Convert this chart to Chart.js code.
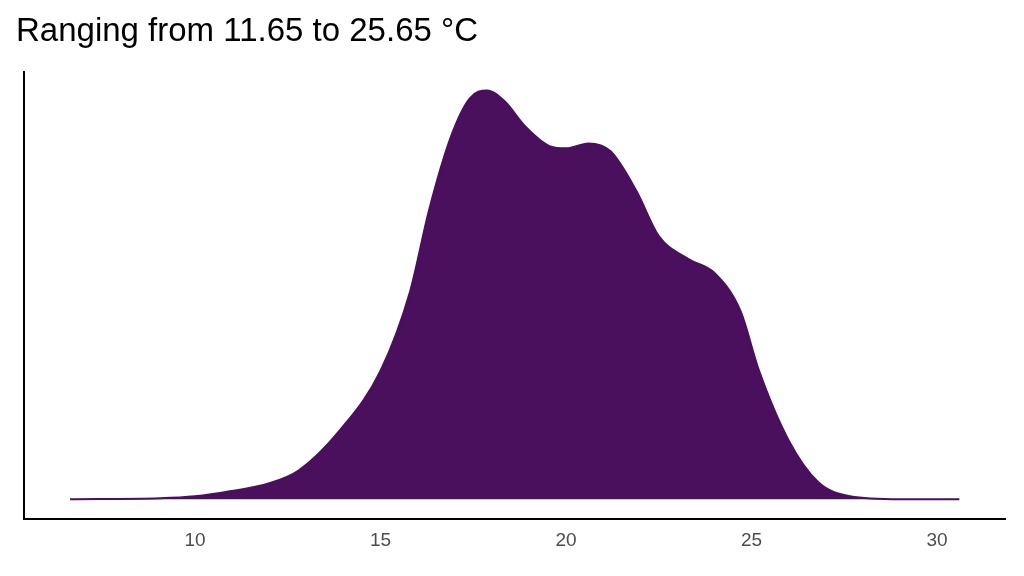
<!DOCTYPE html>
<html><head>
<script src="https://cdn.jsdelivr.net/npm/chart.js@4"></script>
<style>html,body{margin:0;background:#fff}#wrap{width:1024px;height:576px}</style>
</head><body><div id="wrap"><canvas id="c"></canvas></div>
<script>
// temperature (°C) and relative density height
const temps = [6.63, 9.06, 10, 10.94, 12.0, 12.8, 13.9, 15, 15.8, 16.3, 16.9, 17.4, 17.87, 18.35, 18.9, 19.57, 20, 20.6, 21.2, 21.9, 22.5, 23.3, 24.0, 24.7, 25.2, 26.0, 26.8, 27.65, 29.0, 30.6];
const density = [0, 1, 3, 8, 16, 29, 69, 129, 209, 289, 364, 402, 410, 399, 374, 354, 352, 357, 349, 309, 264, 241, 227, 189, 129, 59, 17, 3, 0, 0];
const tickVals = [10, 15, 20, 25, 30];
const titleText = 'Ranging from 11.65 to 25.65 °C';

new Chart(document.getElementById('c'), {
  type: 'line',
  data: {
    datasets: [{
      data: temps.map((t, i) => ({x: t, y: density[i]})),
      borderColor: '#4a0f5d',
      backgroundColor: '#4a0f5d',
      borderWidth: 2,
      pointRadius: 0,
      tension: 0.4,
      cubicInterpolationMode: 'monotone',
      fill: 'origin'
    }]
  },
  options: {
    responsive: true,
    maintainAspectRatio: false,
    animation: false,
    layout: {padding: {left: 16, right: 19, top: 8, bottom: 20}},
    plugins: {
      legend: {display: false},
      tooltip: {enabled: false},
      title: {
        display: true, text: titleText, align: 'start', color: '#000',
        font: {family: 'Liberation Sans', size: 33, weight: 'normal'},
        padding: {top: 4, bottom: 20}
      }
    },
    scales: {
      x: {
        type: 'linear', min: 5.39, max: 31.83,
        afterBuildTicks: s => { s.ticks = tickVals.map(v => ({value: v})); },
        grid: {display: false, drawTicks: true, tickLength: 6, tickColor: '#333'},
        border: {color: '#000', width: 2},
        ticks: {color: '#4d4d4d', font: {family: 'Liberation Sans', size: 19}, padding: 4}
      },
      y: {
        min: -20, max: 429,
        grid: {display: false},
        border: {color: '#000', width: 2},
        ticks: {display: false}
      }
    }
  }
});
</script></body></html>
